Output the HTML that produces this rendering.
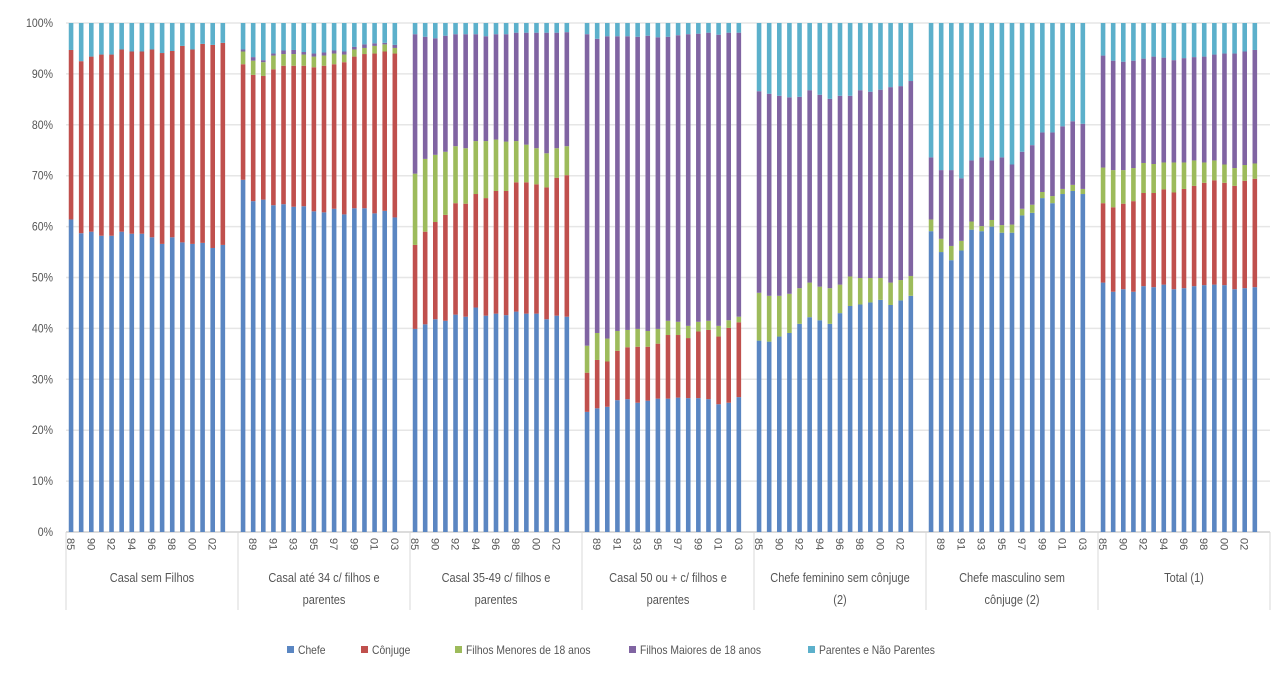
<!DOCTYPE html>
<html><head><meta charset="utf-8">
<style>
html,body{margin:0;padding:0;background:#fff;}
svg{display:block;font-family:"Liberation Sans",sans-serif;}
</style></head>
<body>
<svg id="chart" width="1276" height="676" viewBox="0 0 1276 676" xmlns="http://www.w3.org/2000/svg"></svg>
<script>
const groups = ["Casal sem Filhos","Casal até 34 c/ filhos e|parentes","Casal 35-49 c/ filhos e|parentes","Casal 50 ou + c/ filhos e|parentes","Chefe feminino sem cônjuge|(2)","Chefe masculino sem|cônjuge (2)","Total (1)"];
const years = ["85","89","90","91","92","93","94","95","96","97","98","99","00","01","02","03"];
const yTicks = [0,10,20,30,40,50,60,70,80,90,100];
const seriesNames = ["Chefe","Cônjuge","Filhos Menores de 18 anos","Filhos Maiores de 18 anos","Parentes e Não Parentes"];
const chefe = [
[61.4,58.7,59.0,58.2,58.2,59.0,58.6,58.6,57.9,56.6,57.9,56.9,56.6,56.8,55.8,56.4],
[69.2,65.0,65.3,64.2,64.4,63.9,64.0,63.0,62.8,63.5,62.4,63.6,63.6,62.6,63.1,61.8],
[39.9,40.8,41.8,41.5,42.7,42.3,44.1,42.5,42.9,42.6,43.3,42.9,42.9,41.8,42.5,42.3],
[23.6,24.3,24.6,25.9,26.1,25.4,25.8,26.2,26.2,26.4,26.3,26.3,26.1,25.1,25.4,26.5],
[37.6,37.4,38.4,39.1,40.9,42.2,41.6,40.9,43.0,44.4,44.7,45.1,45.6,44.6,45.5,46.4],
[59.1,55.0,53.4,55.3,59.4,59.1,60.0,58.8,58.8,62.2,62.7,65.6,64.6,66.4,67.0,66.4],
[49.0,47.2,47.7,47.2,48.3,48.1,48.6,47.7,47.9,48.3,48.5,48.6,48.5,47.7,47.9,48.1]];
const conjuge = [
[33.3,33.8,34.4,35.6,35.6,35.8,35.8,35.8,36.9,37.5,36.6,38.6,38.2,39.1,39.9,39.7],
[22.7,24.8,24.3,26.7,27.2,27.7,27.6,28.3,28.8,28.4,29.9,29.8,30.3,31.4,31.3,32.2],
[16.5,18.2,19.1,20.8,21.9,22.2,22.3,23.1,24.1,24.4,25.4,25.8,25.4,25.9,27.1,27.8],
[7.7,9.5,8.9,9.7,10.2,11.0,10.6,10.8,12.5,12.3,11.8,13.1,13.6,13.3,14.7,14.7],
[0,0,0,0,0,0,0,0,0,0,0,0,0,0,0,0],
[0,0,0,0,0,0,0,0,0,0,0,0,0,0,0,0],
[15.6,16.6,16.8,17.8,18.3,18.5,18.7,19.0,19.5,19.7,20.1,20.5,20.1,20.3,21.1,21.3]];
const menores = [
[0,0,0,0,0,0,0,0,0,0,0,0,0,0,0,0],
[2.5,2.8,2.7,2.7,2.3,2.3,2.2,2.1,2.0,2.1,1.5,1.4,1.2,1.5,1.4,1.1],
[14.0,14.3,13.2,12.4,11.2,10.9,10.4,11.2,10.1,9.7,8.1,7.4,7.1,6.7,5.8,5.7],
[5.3,5.3,4.5,3.9,3.4,3.5,3.1,2.9,2.8,2.6,2.4,1.9,1.8,2.1,1.5,1.1],
[9.4,9.0,8.0,7.7,7.0,6.8,6.6,7.0,5.6,5.8,5.2,4.8,4.3,4.4,4.0,3.9],
[2.3,2.6,2.8,1.9,1.6,1.0,1.3,1.5,1.6,1.3,1.6,1.2,1.4,1.0,1.2,1.0],
[7.0,7.3,6.6,6.5,5.9,5.7,5.3,5.9,5.2,5.0,4.0,3.9,3.6,3.5,3.1,3.0]];
const maiores = [
[0,0,0,0,0,0,0,0,0,0,0,0,0,0,0,0],
[0.4,0.7,0.4,0.4,0.7,0.8,0.5,0.6,0.6,0.6,0.6,0.5,0.7,0.5,0.3,0.6],
[27.4,24.0,22.9,22.8,22.0,22.4,21.0,20.6,20.7,21.1,21.3,22.0,22.7,23.7,22.7,22.4],
[61.2,57.8,59.4,57.9,57.7,57.4,58.0,57.3,55.8,56.3,57.3,56.6,56.6,57.2,56.5,55.8],
[39.6,39.7,39.3,38.6,37.6,37.8,37.7,37.2,37.1,35.5,36.9,36.6,37.0,38.4,38.1,38.3],
[12.2,13.5,14.9,12.3,12.0,13.5,11.7,13.3,11.8,11.2,11.7,11.7,12.5,12.3,12.5,12.8],
[22.0,21.5,21.3,21.1,20.5,21.1,20.6,20.1,20.5,20.3,20.8,20.8,21.8,22.5,22.3,22.3]];
const parentes = [
[5.3,7.5,6.6,6.2,6.2,5.2,5.6,5.6,5.2,5.9,5.5,4.5,5.2,4.1,4.3,3.9],
[5.2,6.7,7.3,6.0,5.4,5.3,5.7,6.0,5.8,5.4,5.6,4.7,4.2,4.0,3.9,4.3],
[2.2,2.7,3.0,2.5,2.2,2.2,2.2,2.6,2.2,2.2,1.9,1.9,1.9,1.9,1.9,1.8],
[2.2,3.1,2.6,2.6,2.6,2.7,2.5,2.8,2.7,2.4,2.2,2.1,1.9,2.3,1.9,1.9],
[13.4,13.9,14.3,14.6,14.5,13.2,14.1,14.9,14.3,14.3,13.2,13.5,13.1,12.6,12.4,11.4],
[26.4,28.9,28.9,30.5,27.0,26.4,27.0,26.4,27.8,25.3,24.0,21.5,21.5,20.3,19.3,19.8],
[6.4,7.4,7.6,7.4,7.0,6.6,6.8,7.3,6.9,6.7,6.6,6.2,6.0,6.0,5.6,5.3]];

const series = [chefe, conjuge, menores, maiores, parentes];
const colors = ["#5a86c2","#c0504d","#9dbb5b","#8064a2","#5cb0cb"];
const seriesKeys = ["chefe","conjuge","menores","maiores","parentes"];

const svg = document.getElementById('chart');
const NS = "http://www.w3.org/2000/svg";
const X0 = 66, X1 = 1270, Y0 = 532, Y1 = 23;
const slotsPerGroup = years.length + 1;
const slotW = (X1 - X0) / (groups.length * slotsPerGroup);
const groupW = slotW * slotsPerGroup;
function yScale(v){ return Y0 - (v/100)*(Y0 - Y1); }
function xScale(g, i){ return X0 + g*groupW + (i+0.5)*slotW; }
function mk(tag, attrs){ const e = document.createElementNS(NS, tag); for (const k in attrs) e.setAttribute(k, attrs[k]); svg.appendChild(e); return e; }
function condense(t, f){ const w = t.getComputedTextLength(); t.setAttribute('textLength', (w*f).toFixed(1)); t.setAttribute('lengthAdjust', 'spacingAndGlyphs'); }

yTicks.forEach(t => {
  const y = yScale(t);
  const gl = mk('line', {x1: X0, x2: X1, y1: y, y2: y, stroke: t===0 ? '#d0d0d0' : '#e6e6e6', 'stroke-width': 1.5});
  
  
  const tx = mk('text', {x: 53, y: y + 4, 'text-anchor': 'end', 'font-size': 12, fill: '#555'});
  tx.textContent = t + '%';
  
  
  condense(tx, 0.88);
});

const bw = 4.6;
for (let g = 0; g < groups.length; g++) {
  for (let i = 0; i < years.length; i++) {
    let cum = 0;
    for (let s = 0; s < series.length; s++) {
      const v = series[s][g][i];
      if (v <= 0) continue;
      const yTop = yScale(cum + v), yBot = yScale(cum);
      const r = mk('rect', {x: xScale(g,i) - bw/2, y: yTop, width: bw, height: yBot - yTop, fill: colors[s]});
      
      
      cum += v;
    }
  }
}

for (let g = 0; g <= groups.length; g++) {
  const x = X0 + g*groupW;
  const l = mk('line', {x1: x, x2: x, y1: Y0, y2: 610, stroke: '#d9d9d9', 'stroke-width': 1});
  
  
}
for (let g = 0; g < groups.length; g++) {
  for (let i = 0; i < years.length; i++) {
    if ((g*slotsPerGroup + i) % 2 === 0) {
      const x = xScale(g,i);
      const t = mk('text', {x: 0, y: 0, 'font-size': 11, fill: '#555', 'text-anchor': 'start', transform: 'translate(' + (x-4) + ',538) rotate(90)'});
      t.textContent = years[i];
      
      
    }
  }
  const cx = X0 + g*groupW + groupW/2;
  const lines = groups[g].split('|');
  lines.forEach((ln, k) => {
    const t = mk('text', {x: cx, y: 582 + k*22, 'text-anchor': 'middle', 'font-size': 12.5, fill: '#555'});
    t.textContent = ln;
    
    
    condense(t, 0.88);
  });
}

const legendX = [287, 361, 455, 629, 808];
seriesNames.forEach((n, s) => {
  const r = mk('rect', {x: legendX[s], y: 646, width: 7, height: 7, fill: colors[s]});
  
  
  const t = mk('text', {x: legendX[s] + 11, y: 654, 'font-size': 12, fill: '#555'});
  t.textContent = n;
  
  
  condense(t, 0.86);
});
</script>
</body></html>
